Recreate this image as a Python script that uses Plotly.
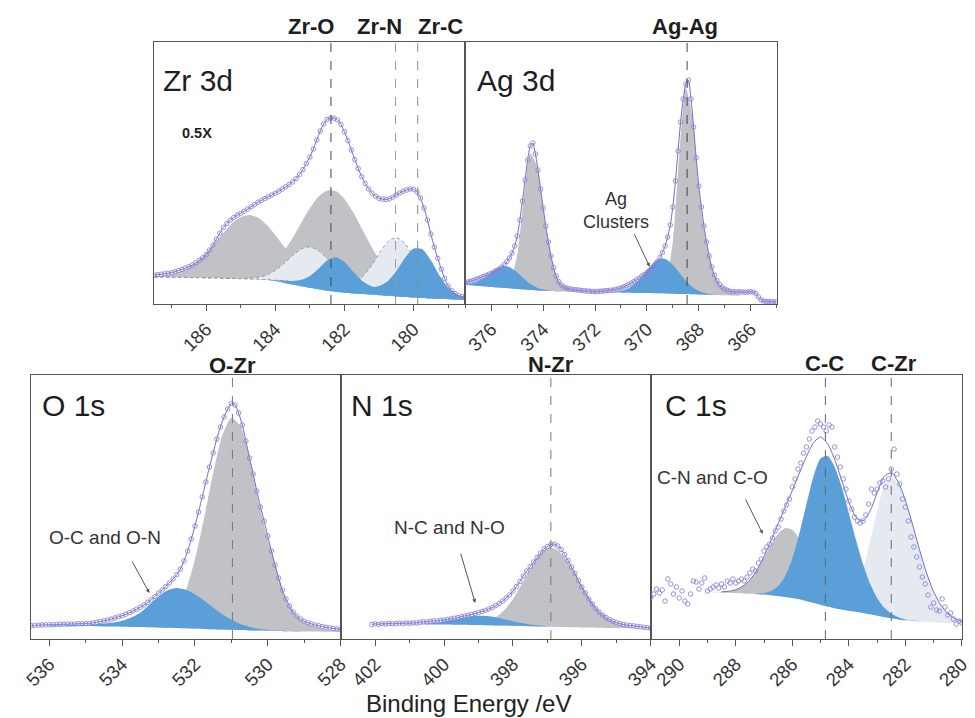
import plotly.graph_objects as go

W, H = 975, 718
FONT = "Liberation Sans, Arial, sans-serif"

GRAY = "#c0c2c6"
BLUE = "#5b9fd9"
LIGHT = "#e5eaf1"
MARK = "#8b86d8"
ENV = "#6f6cc2"
FRAME = "#555555"


def grid(start, stop, step):
    n = int(round((start - stop) / step)) + 1
    return [round(start - step * i, 3) for i in range(n)]


# ---------------- Zr 3d ----------------
zr_fit_e = grid(187.5, 178.5, 0.25)
zr_bg = [27, 26.9, 26.8, 26.6, 26.5, 26.3, 26.2, 26.0, 25.8, 25.6, 25.3, 25.0, 24.7, 24.3, 23.8, 23.2, 22.5,
         21.8, 21.0, 20.2, 19.5, 18.8, 18.0, 17.3, 16.5, 15.8, 15.0, 14.3, 13.5, 12.8, 12.0, 11.3, 10.5, 9.3,
         8.0, 6.5, 5.5]
zr_bg_blue = [27, 26.9, 26.8, 26.6, 26.5, 26.3, 26.2, 26.0, 25.8, 25.6, 25.3, 25.0, 24.7, 24.3, 23.0, 21.3,
              19.5, 17.8, 16.3, 14.8, 13.3, 12.2, 11.3, 10.6, 10.0, 9.4, 8.8, 8.2, 7.6, 7.1, 6.6, 6.1, 5.6, 5.2,
              4.8, 4.4, 4.0]
zr_zro2_a = [0.6, 1.35, 2.8, 5.4, 9.7, 16.0, 24.4, 34.5, 45.2, 54.9, 61.6, 64, 61.6, 54.9, 45.2, 34.5, 24.4,
             16.0, 9.7, 5.4, 2.8, 1.35, 0.6, 0.25, 0, 0, 0, 0, 0, 0, 0, 0, 0, 0, 0, 0, 0]
zr_zro2_b = [0, 0, 0, 0, 0, 0, 0, 0.1, 0.2, 0.6, 1.35, 2.9, 5.9, 10.8, 18.6, 29.6, 43.5, 59.2, 74.7, 87.1,
             94.1, 94.1, 87.1, 74.7, 59.2, 43.5, 29.6, 18.6, 10.8, 5.9, 2.9, 1.35, 0.6, 0.2, 0, 0, 0]
zr_zrn_a = [0, 0, 0, 0, 0, 0, 0, 0, 0, 0, 0.2, 0.7, 1.9, 4.7, 9.8, 17.3, 26.0, 33.2, 36, 33.2, 26.0, 17.3,
            9.8, 4.7, 1.9, 0.7, 0.2, 0, 0, 0, 0, 0, 0, 0, 0, 0, 0]
zr_zrn_b = [0, 0, 0, 0, 0, 0, 0, 0, 0, 0, 0, 0, 0, 0, 0, 0, 0, 0, 0, 0, 0, 0.3, 1.3, 4.0, 10.1, 20.9, 35.1,
            47.8, 53, 47.8, 35.1, 20.9, 10.1, 4.0, 1.3, 0.3, 0]
zr_zrc_a = [0, 0, 0, 0, 0, 0, 0, 0, 0, 0, 0, 0, 0, 0, 0, 0, 0.6, 2.4, 7.0, 15.1, 24.0, 28, 24.0, 15.1, 7.0,
            2.4, 0.6, 0.1, 0, 0, 0, 0, 0, 0, 0, 0, 0]
zr_zrc_b = [0, 0, 0, 0, 0, 0, 0, 0, 0, 0, 0, 0, 0, 0, 0, 0, 0, 0, 0, 0, 0, 0, 0, 0, 0.1, 0.7, 2.9, 8.5, 19.3,
            33.2, 43.5, 43.5, 33.2, 19.3, 8.5, 2.9, 0.7]
zr_data_e = grid(187.5, 178.5, 0.1)
zr_data = [29.0, 29.3, 29.8, 30.2, 30.8, 31.3, 32.2, 33.4, 34.6, 35.9,
           37.3, 39.0, 41.2, 43.6, 46.3, 49.5, 54, 59, 65, 71,
           76.5, 80.5, 83.8, 86.5, 88.8, 90.7, 92.8, 95, 97.2, 99.5,
           101.7, 103.5, 105.5, 107.2, 109, 110.7, 112.8, 115, 117.2, 119.5,
           122, 125.5, 129.5, 134.5, 140.5, 147, 155, 164, 173, 180,
           184.5, 186, 185.8, 184, 179.5, 172.3, 163.5, 154, 144.5, 135.5,
           127.3, 120.5, 115, 110.8, 107.8, 105.7, 104.8, 104.6, 105.2, 106.8,
           109, 111, 112.8, 114, 115, 114.7, 112, 106, 96, 84,
           70, 57, 45.5, 35, 25.5, 18, 13.5, 10.5, 8.5, 7.5,
           7.0]

# ---------------- Ag 3d ----------------
ag_fit_e = grid(377.0, 365.0, 0.25)
ag_bg = [19.0, 18.5, 18.0, 17.5, 17.0, 16.5, 16.0, 15.5, 15.0, 14.5, 14.0, 13.6, 13.2, 12.9, 12.6, 12.4, 12.2,
         12.0, 11.9, 11.8, 11.7, 11.6, 11.5, 11.4, 11.3, 11.2, 11.1, 11.0, 10.9, 10.8, 10.7, 10.5, 10.3, 10.1,
         9.9, 9.7, 9.5, 9.3, 9.1, 8.9, 8.7, 8.5, 8.3, 8.1, 7.9, 6.5, 2.5, 2.0, 1.8]
ag_metal_32 = [0, 0, 0, 0, 0.5, 1, 2.4, 9.3, 34.4, 91.3, 136.5, 125, 82, 42, 15.7, 5.6, 2.5, 1.2, 0.5, 0,
               0, 0, 0, 0, 0, 0, 0, 0, 0, 0, 0, 0, 0, 0, 0, 0, 0, 0, 0, 0, 0, 0, 0, 0, 0, 0, 0, 0, 0]
ag_metal_52 = [0, 0, 0, 0, 0, 0, 0, 0, 0, 0, 0, 0, 0, 0, 0, 0, 0, 0, 0, 0, 0, 0, 0, 0, 0, 0, 0, 0.3, 0.7,
               1.5, 3.3, 14.2, 52.8, 140, 206, 178, 105, 59, 27.5, 12, 5, 2, 1, 0, 0, 0, 0, 0, 0]
ag_clu_32 = [0.8, 2.1, 4.8, 9.0, 14.5, 19.4, 21.9, 20.8, 16.6, 11.1, 6.3, 3.0, 1.2, 0.4, 0.1, 0, 0, 0, 0, 0,
             0, 0, 0, 0, 0, 0, 0, 0, 0, 0, 0, 0, 0, 0, 0, 0, 0, 0, 0, 0, 0, 0, 0, 0, 0, 0, 0, 0, 0]
ag_clu_52 = [0, 0, 0, 0, 0, 0, 0, 0, 0, 0, 0, 0, 0, 0, 0, 0, 0, 0, 0, 0, 0, 0, 0.2, 0.6, 1.7, 4.0, 8.4, 14.9,
             22.9, 30.3, 34.6, 34.1, 29.0, 21.2, 13.4, 7.3, 3.4, 1.4, 0.5, 0.2, 0, 0, 0, 0, 0, 0, 0, 0, 0]
ag_data_e = grid(377.0, 365.0, 0.1)
ag_data = [21.3, 22, 22.8, 23.6, 24.6, 25.5, 26.5, 27.6, 28.7, 29.7,
           30.7, 32, 33.5, 35, 37, 39.5, 42.5, 46, 51, 58,
           68, 84, 103, 124, 144, 158, 161, 150, 134, 115,
           96, 78, 62, 48, 36.5, 28, 22.5, 19, 17, 16,
           15.3, 14.8, 14.5, 14.2, 13.8, 13.5, 13.2, 13, 12.8, 12.5,
           12.3, 12.5, 12.8, 13, 13.2, 13.5, 13.8, 14, 14.6, 15.3,
           16, 17, 18.2, 19.5, 21, 22.5, 24.2, 26, 27.8, 29.5,
           31.5, 33.5, 36, 39, 42.5, 46.5, 51.5, 58, 67, 79,
           97, 123, 153, 182, 205, 220, 224, 205, 177, 146,
           118, 97, 78, 62, 48, 37, 29, 23.5, 19.5, 17,
           15, 13.8, 12.8, 12.3, 12.2, 12, 12.2, 12, 11.8, 12,
           12.3, 11.8, 10.5, 7, 4, 3, 2.5, 2.5, 2.2, 2.2,
           2.0]

# ---------------- O 1s ----------------
o_fit_e = grid(536.5, 528.0, 0.25)
o_bg = [13.5, 13.4, 13.3, 13.2, 13.1, 13.0, 12.9, 12.8, 12.6, 12.5, 12.3, 12.1, 11.9, 11.7, 11.5, 11.2, 11.0,
        10.7, 10.4, 10.1, 9.8, 9.5, 9.2, 8.9, 8.6, 8.4, 8.2, 8.0, 7.8, 7.6, 7.5, 7.4, 7.3, 7.2, 7.1]
o_ozr = [0, 0, 0, 0, 0, 0, 0, 0, 0, 0, 0, 0.2, 0.5, 1.0, 2.9, 7.8, 18.3, 37.9, 69.0, 110.6, 156.0, 193.8,
         211.9, 204.0, 172.8, 128, 92, 60, 32, 17, 9, 5, 3, 1.5, 0.5]
o_ocn = [0.1, 0.2, 0.3, 0.5, 0.7, 1.0, 1.4, 2.0, 2.8, 4.0, 6.0, 9.5, 14.4, 22.5, 31.0, 37.5, 40, 38.5, 34.3,
         28.3, 21.6, 15.2, 10.0, 6.0, 3.4, 1.8, 0.8, 0.4, 0.2, 0.1, 0, 0, 0, 0, 0]
o_data_e = grid(536.5, 528.0, 0.1)
o_data = [13.3, 13.6, 13.8, 14, 14.2, 14.3, 14.2, 14.5, 14.6, 14.8,
          14.7, 15, 15, 15.3, 15.2, 15.5, 15.7, 16.2, 16.8, 17.5,
          18.2, 19, 20, 21, 22.2, 23.3, 24.8, 26.3, 28, 29.8,
          31.7, 34, 36.5, 39.2, 42.5, 46, 49, 52.5, 56, 60,
          64.5, 70, 78, 88, 100, 113, 127, 142, 157, 172,
          186, 200, 212, 222, 230, 235.5, 234, 226, 214, 198,
          181, 165, 148, 132, 118, 103, 88, 74, 61, 49,
          40, 33, 27, 23, 20, 17.8, 16.2, 15, 14, 13.3,
          12.5, 11.8, 11.2, 10.6, 10.1, 9.5]

# ---------------- N 1s ----------------
n_fit_e = grid(403.0, 394.0, 0.25)
n_bg = [15.2, 15.2, 15.1, 15.1, 15.0, 15.0, 14.9, 14.9, 14.8, 14.7, 14.6, 14.5, 14.4, 14.3, 14.2, 14.1, 14.0,
        13.8, 13.6, 13.4, 13.2, 13.0, 12.8, 12.6, 12.4, 12.2, 12.0, 11.8, 11.6, 11.4, 11.2, 11.0, 10.9, 10.8,
        10.7, 10.6, 10.5]
n_nzr = [0, 0, 0, 0, 0, 0, 0, 0, 0, 0, 0, 0, 0, 0.1, 0.3, 0.7, 1.6, 3.8, 8.1, 15.6, 26.9, 41.6, 57.4, 70.9,
         78.3, 77.6, 69.7, 56.8, 42.0, 28.1, 17.1, 9.4, 4.7, 2.1, 0.9, 0.4, 0.1]
n_nco = [0, 0, 0, 0, 0, 0, 0, 0, 0.2, 0.4, 1.0, 1.8, 3.2, 4.9, 6.8, 8.3, 9.2, 9.1, 8.1, 6.4, 4.5, 2.9, 1.6,
         0.8, 0.4, 0.2, 0, 0, 0, 0, 0, 0, 0, 0, 0, 0, 0]
n_data_e = grid(402.1, 394.0, 0.1)
n_data = [14.5, 15.2, 14.6, 15.3, 15.0, 15.6, 15.1, 15.4, 15.8, 15.3,
          16.0, 15.7, 16.3, 16.0, 16.8, 17.2, 17.0, 17.8, 18.2, 18.0,
          18.8, 19.0, 19.6, 20.2, 20.8, 21.5, 22.3, 23.0, 23.8, 24.5,
          25.5, 26.5, 27.5, 28.6, 30.0, 31.5, 33.5, 35.5, 38, 41,
          44, 48, 52.5, 57.5, 63, 68, 72.5, 77, 81.5, 86,
          90, 92.5, 94.5, 95, 93, 89.5, 84.5, 78.5, 72, 65.5,
          58.5, 52, 46, 40, 35, 30.5, 27, 24, 21.5, 19.5,
          17.8, 16.5, 15.5, 14.5, 14, 13.5, 13.2, 12.6, 12.2, 11.8,
          11.3, 10.8]

# ---------------- C 1s ----------------
c_fit_e = grid(291.0, 280.0, 0.25)
c_bg = [47, 47, 47, 47, 47, 47, 47, 47, 47, 46.8, 46.6, 46.3, 46, 45.6, 45.2, 44.8, 44.4, 43.8, 43, 42, 41,
        39.8, 38, 36.2, 34.2, 32.4, 30.8, 29.5, 28.3, 27.2, 26, 24.7, 23.3, 22, 20.7, 19.6, 18.7, 18, 17.4,
        16.9, 16.5, 16.2, 16, 15.8, 15.7]
c_cno = [0, 0, 0, 0, 0, 0, 0, 0, 0, 0.2, 0.5, 1.4, 3.3, 7.2, 13.8, 23.7, 36.6, 50.5, 62.3, 68.9, 68.1, 60.3,
         47.7, 33.8, 21.5, 12.2, 6.2, 2.8, 1.1, 0.4, 0, 0, 0, 0, 0, 0, 0, 0, 0, 0, 0, 0, 0, 0, 0]
c_cc = [0, 0, 0, 0, 0, 0, 0, 0, 0, 0, 0, 0, 0, 0, 0, 0.5, 1.5, 4.2, 9.9, 21.0, 39.4, 65.6, 96.7, 126.4,
        146.4, 150.5, 141.3, 122.4, 97.8, 72.1, 49.0, 30.7, 17.8, 9.5, 4.7, 2.1, 0.9, 0.4, 0.1, 0, 0, 0, 0,
        0, 0]
c_czr = [0, 0, 0, 0, 0, 0, 0, 0, 0, 0, 0, 0, 0, 0, 0, 0, 0, 0, 0, 0, 0, 0, 0, 0, 0, 0.3, 1.2, 3.8, 9.8, 22.2,
         43.2, 72.5, 104.9, 131, 141, 135.2, 119.1, 96.4, 71.7, 49.0, 30.8, 17.8, 9.4, 4.6, 2.1]
c_data_e = grid(291.0, 280.0, 0.1)
c_data = [42, 45, 50, 46, 49, 38, 60, 55, 45, 52,
          41, 48, 38, 35, 45, 58, 57, 50, 56, 61,
          48, 50, 52, 54, 51, 55, 52, 58, 56, 60,
          56, 58, 60, 58, 62, 66, 70, 68, 76, 80,
          88, 92, 95, 101, 108, 112, 120, 128, 134, 140,
          152, 160, 170, 176, 186, 192, 200, 208, 212, 218,
          215, 212, 208, 214, 212, 192, 182, 172, 160, 150,
          138, 130, 122, 118, 116, 118, 124, 135, 150, 146,
          150, 156, 158, 152, 160, 170, 190, 165, 155, 140,
          132, 118, 102, 92, 82, 72, 62, 55, 44, 32,
          36, 29, 28, 40, 32, 24, 26, 20, 15, 18,
          16]

# ---------------- consistency checks ----------------
for e, arrs in [(zr_fit_e, [zr_bg, zr_bg_blue, zr_zro2_a, zr_zro2_b, zr_zrn_a, zr_zrn_b, zr_zrc_a, zr_zrc_b]),
                (ag_fit_e, [ag_bg, ag_metal_32, ag_metal_52, ag_clu_32, ag_clu_52]),
                (o_fit_e, [o_bg, o_ozr, o_ocn]),
                (n_fit_e, [n_bg, n_nzr, n_nco]),
                (c_fit_e, [c_bg, c_cno, c_cc, c_czr]),
                (zr_data_e, [zr_data]), (ag_data_e, [ag_data]), (o_data_e, [o_data]),
                (n_data_e, [n_data]), (c_data_e, [c_data])]:
    for a in arrs:
        assert len(a) == len(e), (len(a), len(e))

fig = go.Figure()


def axn(i, kind):
    return kind if i == 1 else f"{kind}{i}"


def component(i, x, lower, base, comp, color, outline=None, dash="solid", width=0.0):
    upper = [b + c for b, c in zip(base, comp)]
    fig.add_trace(go.Scatter(x=x, y=lower, mode="lines",
                             line=dict(width=0, shape="spline", smoothing=0.7),
                             xaxis=axn(i, "x"), yaxis=axn(i, "y"), hoverinfo="skip", showlegend=False))
    fig.add_trace(go.Scatter(x=x, y=upper, mode="lines", fill="tonexty", fillcolor=color,
                             line=dict(width=width, color=outline or color, dash=dash,
                                       shape="spline", smoothing=0.7),
                             xaxis=axn(i, "x"), yaxis=axn(i, "y"), hoverinfo="skip", showlegend=False))


def measured(i, x, y, env_x=None, env_y=None):
    if env_x is None:
        env_x, env_y = x, y
    fig.add_trace(go.Scatter(x=env_x, y=env_y, mode="lines",
                             line=dict(width=1, color=ENV, shape="spline", smoothing=0.6),
                             xaxis=axn(i, "x"), yaxis=axn(i, "y"), hoverinfo="skip", showlegend=False))
    fig.add_trace(go.Scatter(x=x, y=y, mode="markers",
                             marker=dict(symbol="circle-open", size=4.5, color=MARK, line=dict(width=0.9)),
                             xaxis=axn(i, "x"), yaxis=axn(i, "y"), hoverinfo="skip", showlegend=False))


# Zr 3d (subplot 1)
component(1, zr_fit_e, zr_bg, zr_bg, zr_zro2_a, GRAY)
component(1, zr_fit_e, zr_bg, zr_bg, zr_zro2_b, GRAY)
component(1, zr_fit_e, zr_bg, zr_bg, zr_zrn_a, LIGHT, outline="#8e98aa", dash="dot", width=1)
component(1, zr_fit_e, zr_bg, zr_bg, zr_zrn_b, LIGHT, outline="#8e98aa", dash="dot", width=1)
component(1, zr_fit_e, zr_bg_blue, zr_bg, zr_zrc_a, BLUE)
component(1, zr_fit_e, zr_bg_blue, zr_bg, zr_zrc_b, BLUE)
measured(1, zr_data_e, zr_data)

# Ag 3d (subplot 2)
component(2, ag_fit_e, ag_bg, ag_bg, ag_metal_32, GRAY)
component(2, ag_fit_e, ag_bg, ag_bg, ag_metal_52, GRAY)
component(2, ag_fit_e, ag_bg, ag_bg, ag_clu_32, BLUE)
component(2, ag_fit_e, ag_bg, ag_bg, ag_clu_52, BLUE)
measured(2, ag_data_e, ag_data)

# O 1s (subplot 3)
component(3, o_fit_e, o_bg, o_bg, o_ozr, GRAY)
component(3, o_fit_e, o_bg, o_bg, o_ocn, BLUE)
measured(3, o_data_e, o_data)

# N 1s (subplot 4)
component(4, n_fit_e, n_bg, n_bg, n_nzr, GRAY)
component(4, n_fit_e, n_bg, n_bg, n_nco, BLUE)
measured(4, n_data_e, n_data)

# C 1s (subplot 5)
component(5, c_fit_e, c_bg, c_bg, c_czr, LIGHT)
component(5, c_fit_e, c_bg, c_bg, c_cno, GRAY)
component(5, c_fit_e, c_bg, c_bg, c_cc, BLUE)
c_env = [b + p + q + r for b, p, q, r in zip(c_bg, c_cno, c_cc, c_czr)]
measured(5, c_data_e, c_data, env_x=c_fit_e[10:], env_y=c_env[10:])

# ---------------- axes ----------------
def px(x):
    return x / W


def py(y):
    return 1 - y / H


panels = {
    1: dict(xr=[187.5, 178.5], xd=[148, 465], yd=[42, 304]),
    2: dict(xr=[377.0, 365.0], xd=[465, 782], yd=[42, 304]),
    3: dict(xr=[536.5, 527.995], xd=[22.5, 338], yd=[374.5, 639]),
    4: dict(xr=[403.0, 393.995], xd=[338, 654], yd=[374.5, 639]),
    5: dict(xr=[291.0, 279.995], xd=[654, 971], yd=[374.5, 639]),
}
layout_axes = {}
for i, p in panels.items():
    layout_axes["xaxis" if i == 1 else f"xaxis{i}"] = dict(
        domain=[px(p["xd"][0]), px(p["xd"][1])], range=p["xr"], anchor=axn(i, "y"),
        showline=True, linecolor=FRAME, linewidth=1.3, mirror=True,
        ticks="outside", ticklen=6, tickwidth=1, tickcolor=FRAME, tickangle=-45,
        tick0=0, dtick=2, tickfont=dict(family=FONT, size=18.5, color="#333333"),
        minor=dict(ticks="outside", ticklen=3, dtick=1, tick0=0, tickcolor=FRAME, tickwidth=1),
        showgrid=False, zeroline=False)
    ytop = p["yd"][1] - p["yd"][0]
    layout_axes["yaxis" if i == 1 else f"yaxis{i}"] = dict(
        domain=[py(p["yd"][1]), py(p["yd"][0])], range=[0, ytop], anchor=axn(i, "x"),
        showline=True, linecolor=FRAME, linewidth=1.3, mirror=True,
        ticks="", showticklabels=False, showgrid=False, zeroline=False)

# dashed reference lines
refs = [(1, 182.39, "#444444"), (1, 180.52, "#999999"), (1, 179.88, "#888888"),
        (2, 368.45, "#444444"), (3, 530.97, "#777777"), (4, 396.9, "#777777"),
        (5, 284.83, "#666666"), (5, 282.5, "#666666")]
shapes = [dict(type="line", xref=axn(i, "x"), yref=f"{axn(i, 'y')} domain", x0=v, x1=v, y0=0, y1=1,
               line=dict(color=c, width=1, dash="dash"), layer="above") for i, v, c in refs]

ann = []


def label(text, x, y, size, xanchor="center", bold=False, color="#1e1e1e"):
    ann.append(dict(text=f"<b>{text}</b>" if bold else text, x=px(x), y=py(y), xref="paper", yref="paper",
                    xanchor=xanchor, yanchor="middle", showarrow=False,
                    font=dict(family=FONT, size=size, color=color)))


def arrow(x, y, ax, ay):
    ann.append(dict(text="", x=px(x), y=py(y), xref="paper", yref="paper", showarrow=True,
                    ax=ax, ay=ay, axref="pixel", ayref="pixel", arrowhead=2, arrowsize=0.8,
                    arrowwidth=1, arrowcolor="#555555", standoff=0))


label("Zr 3d", 155, 81, 30, xanchor="left")
label("Ag 3d", 475, 81, 30, xanchor="left")
label("O 1s", 32, 405, 30, xanchor="left")
label("N 1s", 346, 405, 30, xanchor="left")
label("C 1s", 666, 405, 30, xanchor="left")

label("Zr-O", 308, 27, 22, bold=True)
label("Zr-N", 377.5, 27, 22, bold=True)
label("Zr-C", 440, 27, 22, bold=True)
label("Ag-Ag", 689, 27, 22, bold=True)
label("O-Zr", 228, 365, 22, bold=True)
label("N-Zr", 551.7, 364, 22, bold=True)
label("C-C", 831, 363, 22, bold=True)
label("C-Zr", 901.7, 363, 22, bold=True)

label("0.5X", 174, 133, 14.5, xanchor="left", bold=True)
label("Ag<br>Clusters", 618, 210, 18, color="#333333")
label("O-C and O-N", 97.5, 537, 19, color="#333333")
label("N-C and N-O", 449, 527, 19, color="#333333")
label("C-N and C-O", 717, 477, 19, color="#333333")
label("Binding Energy /eV", 468, 703, 24, color="#222222")

arrow(652.7, 266.7, -16, -34)
arrow(143, 593, -18, -33)
arrow(475, 603, -15, -51)
arrow(768, 534, -18, -36)

fig.update_layout(width=W, height=H, margin=dict(l=0, r=0, t=0, b=0),
                  paper_bgcolor="white", plot_bgcolor="white", showlegend=False,
                  shapes=shapes, annotations=ann, **layout_axes)

fig.write_html("out.html")
